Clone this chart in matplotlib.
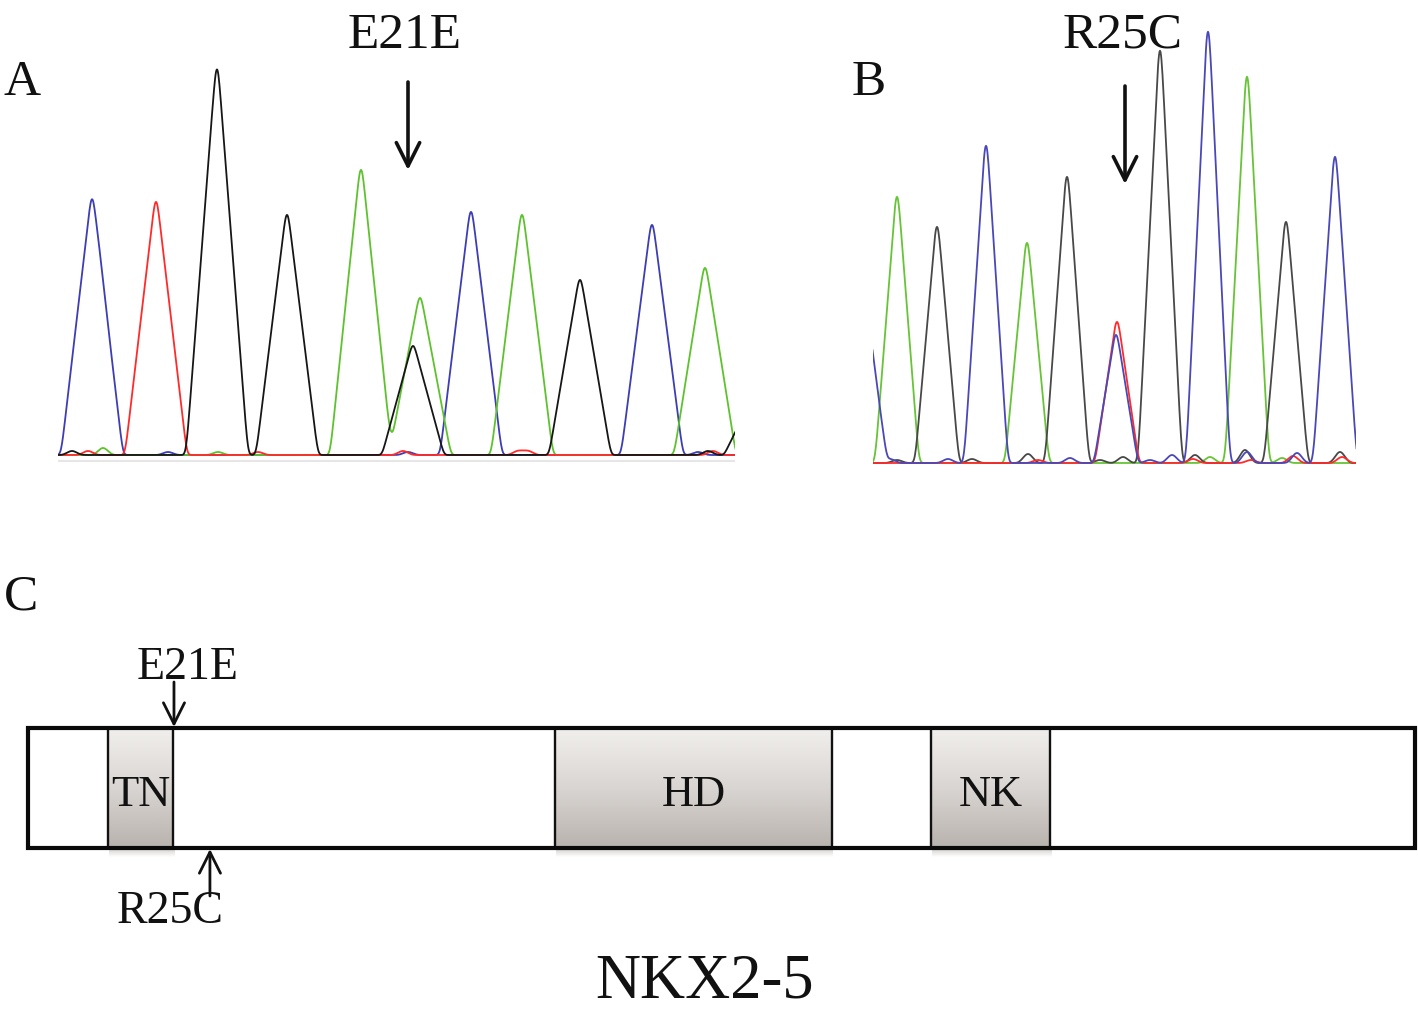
import numpy as np
import matplotlib
matplotlib.use('Agg')
import matplotlib.pyplot as plt
from matplotlib.colors import LinearSegmentedColormap
from matplotlib.patches import Rectangle

# ---------------- data ----------------
BASE_COLORS = {'A': '#5ec22e', 'C': '#3d3db5', 'G': '#161616', 'T': '#ff2a2a'}
BASE_COLORS_B = {'A': '#66c436', 'C': '#4a48b8', 'G': '#484848', 'T': '#ff2a2a'}

# Panel A chromatogram (scan position, peak height)
a_pos = [34, 98, 159, 229, 303, 355, 362, 413, 464, 522, 594, 647, 697]
a_height = [255, 253, 385, 240, 285, 109, 157, 243, 240, 175, 230, 187, 60]
a_base = ['C', 'T', 'G', 'G', 'A', 'G', 'A', 'C', 'A', 'G', 'C', 'A', 'G']
a_minor_pos = [14, 30, 42, 45, 110, 150, 200, 160, 345, 350, 460, 470, 640, 650, 655]
a_minor_height = [4, 4, 3, 7, 3, 3, 3, 3, 4, 3, 4, 4, 3, 4, 4]
a_minor_base = ['G', 'T', 'C', 'A', 'C', 'G', 'T', 'A', 'T', 'C', 'T', 'T', 'C', 'G', 'T']

# Panel B chromatogram
b_pos = [-8, 24, 64, 113, 154, 194, 244, 243, 287, 335, 374, 413, 462]
b_height = [160, 266, 236, 317, 220, 286, 141, 128, 412, 431, 386, 241, 306]
b_base = ['C', 'A', 'G', 'C', 'A', 'G', 'T', 'C', 'G', 'C', 'A', 'G', 'C']
b_minor_pos = [17, 24, 75, 99, 155, 165, 197, 227, 250, 277, 299, 322, 320, 337,
               372, 374, 378, 409, 420, 424, 467, 469]
b_minor_height = [4, 3, 4, 4, 9, 3, 5, 3, 6, 3, 8, 8, 4, 6, 13, 11, 3, 5, 7, 10, 11, 6]
b_minor_base = ['C', 'G', 'C', 'G', 'G', 'T', 'C', 'G', 'G', 'C', 'C', 'G', 'T', 'A',
                'G', 'C', 'T', 'A', 'T', 'C', 'G', 'T']

# Panel C protein (NKX2-5, residues)
protein_length = 324
domain_names = ['TN', 'HD', 'NK']
domain_start = [18.7, 123.1, 210.9]
domain_end = [33.9, 187.8, 238.7]
variant_names = ['E21E', 'R25C']
variant_pos = [34.1, 42.5]

# ---------------- figure ----------------
W, H = 1418, 1011
fig = plt.figure(figsize=(W / 100, H / 100), dpi=100)
plt.rcParams['font.family'] = ['Liberation Serif', 'DejaVu Serif']


def px_axes(x0, y0, x1, y1):
    """axes spanning pixel box (top-left origin)"""
    return fig.add_axes([x0 / W, 1 - y1 / H, (x1 - x0) / W, (y1 - y0) / H])


STEP = 0.5


def trace(x, pos, height, w, smooth=1.8):
    y = np.zeros_like(x)
    comp = 1.0 / (1 - 0.8 * smooth / w)
    for p, h in zip(pos, height):
        y += h * comp * np.clip(1 - np.abs(x - p) / w, 0, None)
    n = int(4 * smooth / STEP)
    k = np.exp(-0.5 * (np.arange(-n, n + 1) * STEP / smooth) ** 2)
    k /= k.sum()
    return np.convolve(y, k, mode='same')


def draw_chrom(ax, pos, height, base, mpos, mheight, mbase, w, colors, xmax, order):
    x = np.arange(-40, xmax + 40, STEP)
    for b in order:
        p = [pp for pp, bb in zip(pos, base) if bb == b]
        h = [hh for hh, bb in zip(height, base) if bb == b]
        mp = [pp for pp, bb in zip(mpos, mbase) if bb == b]
        mh = [hh for hh, bb in zip(mheight, mbase) if bb == b]
        y = trace(x, p, h, w) + trace(x, mp, mh, 9, smooth=2.5)
        ax.plot(x, y, color=colors[b], lw=1.3, solid_joinstyle='round')


# Panel A
ax_a = px_axes(58, 50, 735, 462)
draw_chrom(ax_a, a_pos, a_height, a_base, a_minor_pos, a_minor_height, a_minor_base,
           31, BASE_COLORS, 677, ['C', 'A', 'T', 'G'])
ax_a.set_xlim(0, 677)
ax_a.set_ylim(-7, 405)
ax_a.axhline(-6, color='#e6e6e6', lw=1.5)
ax_a.axis('off')

# Panel B
ax_b = px_axes(873, 20, 1356, 470)
draw_chrom(ax_b, b_pos, b_height, b_base, b_minor_pos, b_minor_height, b_minor_base,
           22, BASE_COLORS_B, 483, ['A', 'G', 'T', 'C'])
ax_b.set_xlim(0, 483)
ax_b.set_ylim(-7, 443)
ax_b.axis('off')

# Panel C protein diagram
ax_c = fig.add_axes([0, 0, 1, 1])
scale = 1387 / protein_length
ytop, ybot = 728, 848
ax_c.add_patch(Rectangle((0, ytop), protein_length, ybot - ytop, facecolor='white',
                         edgecolor='none', zorder=1))
grad_cmap = LinearSegmentedColormap.from_list('g', ['#f1efed', '#d9d5d2', '#b9b3ae'])
grad = np.linspace(0, 1, 200).reshape(-1, 1)
shadow_cmap = LinearSegmentedColormap.from_list('s', ['#c9c4c0', '#ffffff'])
for name, s, e in zip(domain_names, domain_start, domain_end):
    ax_c.imshow(np.linspace(0, 1, 50).reshape(-1, 1), extent=[s + 0.3, e + 0.3, ybot + 9, ybot],
                aspect='auto', cmap=shadow_cmap, origin='upper', zorder=1.5, alpha=0.8)
    ax_c.imshow(grad, extent=[s, e, ybot, ytop], aspect='auto', cmap=grad_cmap,
                origin='upper', zorder=2)
    ax_c.add_patch(Rectangle((s, ytop), e - s, ybot - ytop, facecolor='none',
                             edgecolor='#111111', lw=1.7, zorder=3))
    ax_c.text((s + e) / 2, 806, name, ha='center', va='baseline', fontsize=32,
              color='#111111', zorder=5)
ax_c.add_patch(Rectangle((0, ytop), protein_length, ybot - ytop, facecolor='none',
                         edgecolor='#0a0a0a', lw=3.0, zorder=4, joinstyle='miter'))
ax_c.set_xlim(-28 / scale, (W - 28) / scale)
ax_c.set_ylim(H, 0)
ax_c.axis('off')

# variant arrows in panel C
ax_c.annotate('', xy=(variant_pos[0], ytop - 1), xytext=(variant_pos[0], 682),
              arrowprops=dict(arrowstyle='->', lw=2.0, color='#111111', mutation_scale=38,
                              shrinkA=0, shrinkB=0), zorder=6)
ax_c.text(variant_pos[0] + 3.3, 679, variant_names[0], ha='center', va='baseline',
          fontsize=33, color='#111111')
ax_c.annotate('', xy=(variant_pos[1], ybot + 1), xytext=(variant_pos[1], 896),
              arrowprops=dict(arrowstyle='->', lw=2.0, color='#111111', mutation_scale=38,
                              shrinkA=0, shrinkB=0), zorder=6)
ax_c.text(variant_pos[1] - 9.4, 923, variant_names[1], ha='center', va='baseline',
          fontsize=33, color='#111111')

# overlay for panel labels and chromatogram arrows
ov = fig.add_axes([0, 0, 1, 1])
ov.set_xlim(0, W)
ov.set_ylim(H, 0)
ov.axis('off')
ov.patch.set_alpha(0)
ov.text(3, 95, 'A', fontsize=37, ha='left', va='baseline', color='#111111')
ov.text(852, 95, 'B', fontsize=37, ha='left', va='baseline', color='#111111')
ov.text(4, 609, 'C', fontsize=37, ha='left', va='baseline', color='#111111')
ov.text(405, 48, 'E21E', fontsize=37, ha='center', va='baseline', color='#111111')
ov.text(1123, 48, 'R25C', fontsize=37, ha='center', va='baseline', color='#111111')
ov.text(705, 997, 'NKX2-5', fontsize=45, ha='center', va='baseline', color='#111111')
ov.annotate('', xy=(408, 170), xytext=(408, 82),
            arrowprops=dict(arrowstyle='->', lw=2.6, color='#111111', mutation_scale=42,
                            shrinkA=0, shrinkB=0))
ov.annotate('', xy=(1125, 184), xytext=(1125, 86),
            arrowprops=dict(arrowstyle='->', lw=2.6, color='#111111', mutation_scale=42,
                            shrinkA=0, shrinkB=0))

fig.savefig('out.png', dpi=100, facecolor='white')
